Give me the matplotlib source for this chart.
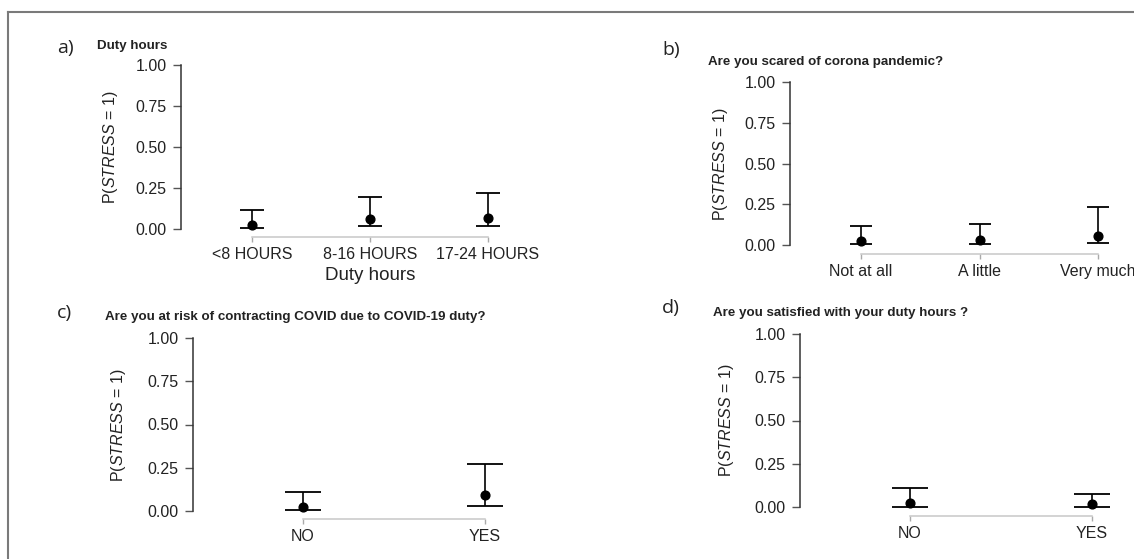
import matplotlib
matplotlib.use("Agg")
import matplotlib.pyplot as plt
from matplotlib.lines import Line2D

# ---------------- data ----------------
cats_a = ['<8 HOURS', '8-16 HOURS', '17-24 HOURS']
est_a = [0.022, 0.063, 0.069]
lo_a = [0.004, 0.018, 0.016]
hi_a = [0.114, 0.196, 0.220]

cats_b = ['Not at all', 'A little', 'Very much']
est_b = [0.026, 0.029, 0.053]
lo_b = [0.004, 0.004, 0.010]
hi_b = [0.114, 0.130, 0.236]

cats_c = ['NO', 'YES']
est_c = [0.023, 0.095]
lo_c = [0.004, 0.027]
hi_c = [0.112, 0.269]

cats_d = ['NO', 'YES']
est_d = [0.023, 0.019]
lo_d = [0.002, 0.002]
hi_d = [0.112, 0.075]

yticks = [0.0, 0.25, 0.5, 0.75, 1.0]
ytick_labels = ['0.00', '0.25', '0.50', '0.75', '1.00']

titles = ['Duty hours', 'Are you scared of corona pandemic?',
          'Are you at risk of contracting COVID due to COVID-19 duty?',
          'Are you satisfied with your duty hours ?']
letters = ['a)', 'b)', 'c)', 'd)']
ylabel = r'P($\mathit{STRESS}$ = $\mathit{1}$)'

# ---------------- style ----------------
plt.rcParams['font.family'] = ['Liberation Sans', 'DejaVu Sans']
plt.rcParams['mathtext.fontset'] = 'custom'
plt.rcParams['mathtext.rm'] = 'Liberation Sans'
plt.rcParams['mathtext.it'] = 'Liberation Sans:italic'

W, H = 1134, 559
fig = plt.figure(figsize=(W / 100, H / 100), dpi=100)
fig.patch.set_facecolor('white')

def fxp(x):
    return x / W

def fyp(y):
    return 1 - y / H

TXT = '#222222'

# layout per panel (pixels)
panels = [
    dict(cats=cats_a, est=est_a, lo=lo_a, hi=hi_a, ax_x=181, y1=65, y0=229, grey=237,
         pos=[252, 370, 488], right=520, cap=8.3, title_xy=(97, 46), let_xy=(57, 48),
         ylab_xy=(111, 147), xlabel='Duty hours', xlab_xy=(370, 276)),
    dict(cats=cats_b, est=est_b, lo=lo_b, hi=hi_b, ax_x=790, y1=82, y0=245, grey=254,
         pos=[861, 980, 1098], right=1130, cap=8.2, title_xy=(708, 62), let_xy=(662, 50),
         ylab_xy=(720, 164), xlabel=None, xlab_xy=None),
    dict(cats=cats_c, est=est_c, lo=lo_c, hi=hi_c, ax_x=193, y1=338, y0=511, grey=519,
         pos=[303, 485], right=520, cap=13.0, title_xy=(105, 317), let_xy=(57, 313),
         ylab_xy=(119, 425), xlabel=None, xlab_xy=None),
    dict(cats=cats_d, est=est_d, lo=lo_d, hi=hi_d, ax_x=800, y1=334, y0=507, grey=516,
         pos=[910, 1092], right=1125, cap=13.2, title_xy=(713, 313), let_xy=(662, 308),
         ylab_xy=(727, 420), xlabel=None, xlab_xy=None),
]

for i, p in enumerate(panels):
    n = len(p['cats'])
    left = fxp(p['ax_x'])
    width = (p['right'] - p['ax_x']) / W
    bottom = fyp(p['grey'])
    height = (p['grey'] - p['y1']) / H
    ax = fig.add_axes([left, bottom, width, height])
    ax.set_facecolor('none')

    s = (p['pos'][-1] - p['pos'][0]) / (n - 1)
    xl = -(p['pos'][0] - p['ax_x']) / s
    xr = (n - 1) + (p['right'] - p['pos'][-1]) / s
    ax.set_xlim(xl, xr)
    yb = -(p['grey'] - p['y0']) / (p['y0'] - p['y1'])
    ax.set_ylim(yb, 1.0)

    x = list(range(n))
    est = p['est']
    err_lo = [e - l for e, l in zip(est, p['lo'])]
    err_hi = [h - e for e, h in zip(est, p['hi'])]
    ax.errorbar(x, est, yerr=[err_lo, err_hi], fmt='o', color='black', ms=6.3,
                capsize=p['cap'], elinewidth=1.2, capthick=1.3, clip_on=False)

    for sp in ['top', 'right']:
        ax.spines[sp].set_visible(False)
    ax.spines['left'].set_bounds(0, 1)
    ax.spines['left'].set_color('#333333')
    ax.spines['left'].set_linewidth(1.1)
    ax.spines['bottom'].set_bounds(0, n - 1)
    ax.spines['bottom'].set_color('#c8c8c8')
    ax.spines['bottom'].set_linewidth(1.1)

    ax.set_yticks(yticks)
    ax.set_yticklabels(ytick_labels)
    ax.tick_params(axis='y', length=5.8, width=1.0, color='#555555', pad=4.5,
                   labelsize=11.5, labelcolor=TXT)
    ax.set_xticks(x)
    ax.set_xticklabels(p['cats'])
    ax.tick_params(axis='x', length=3.6, width=1.0, color='#aaaaaa', pad=3.5,
                   labelsize=11.5, labelcolor=TXT)

    fig.text(fxp(p['title_xy'][0]), fyp(p['title_xy'][1]), titles[i], fontsize=9.6,
             fontweight='bold', color=TXT, ha='left', va='center')
    fig.text(fxp(p['let_xy'][0]), fyp(p['let_xy'][1]), letters[i], fontsize=14,
             family=['Open Sans', 'DejaVu Sans'], color=TXT, ha='left', va='center')
    fig.text(fxp(p['ylab_xy'][0]), fyp(p['ylab_xy'][1]), ylabel, fontsize=11.5,
             rotation=90, color=TXT, ha='center', va='center')
    if p['xlabel']:
        fig.text(fxp(p['xlab_xy'][0]), fyp(p['xlab_xy'][1]), p['xlabel'], fontsize=13.5,
                 color=TXT, ha='center', va='center')

# outer frame lines (top and left)
fig.add_artist(Line2D([fxp(8), 1.0], [fyp(12), fyp(12)], color='#7a7a7a', lw=1.5,
                      transform=fig.transFigure))
fig.add_artist(Line2D([fxp(8), fxp(8)], [fyp(12), 0.0], color='#7a7a7a', lw=1.5,
                      transform=fig.transFigure))

fig.savefig('out.png', dpi=100, facecolor='white')
